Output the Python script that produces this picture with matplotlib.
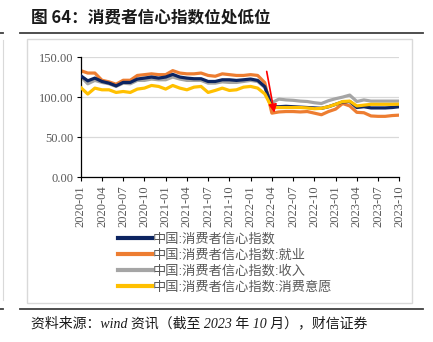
import matplotlib
matplotlib.use("Agg")
import matplotlib.pyplot as plt
from matplotlib.lines import Line2D
from matplotlib.patches import Rectangle

plt.rcParams['font.family'] = ['Liberation Sans', 'Noto Sans CJK SC', 'DejaVu Sans']

months = [f"{y}-{m:02d}" for y in (2020, 2021, 2022, 2023) for m in range(1, 13)][:46]
tick_labels = months[::3]

cci = [126.6, 120.3, 123.7, 119.5, 117.4, 114.0, 118.3, 118.3, 122.5, 123.7, 125.0, 123.7,
       125.0, 128.3, 125.0, 123.7, 122.9, 122.9, 119.5, 119.5, 121.6, 121.6, 120.8, 121.6,
       122.5, 120.8, 113.0, 88.0, 88.0, 88.5, 88.0, 87.5, 87.0, 86.5, 86.0, 88.0,
       91.0, 94.0, 94.5, 87.0, 88.0, 86.5, 86.5, 86.5, 87.0, 88.0]
employ = [133.0, 130.0, 130.0, 121.0, 119.0, 116.0, 121.0, 121.0, 127.0, 128.0, 129.0, 128.0,
          128.0, 133.0, 130.0, 129.0, 129.0, 130.0, 127.0, 126.0, 129.0, 128.0, 127.0, 127.0,
          128.0, 127.0, 118.0, 80.0, 81.5, 82.0, 82.0, 81.5, 82.0, 80.0, 78.0, 82.0,
          85.0, 92.0, 89.0, 81.0, 80.5, 76.5, 76.0, 76.0, 77.0, 77.5]
income = [125.8, 116.6, 120.8, 118.3, 116.6, 113.3, 117.4, 116.6, 120.8, 120.8, 122.5, 121.6,
          121.6, 125.0, 122.5, 120.8, 120.8, 120.8, 117.4, 117.4, 119.0, 118.3, 118.3, 119.5,
          120.8, 119.5, 112.0, 93.0, 97.5, 96.5, 96.0, 95.0, 94.5, 93.0, 92.0, 95.5,
          98.0, 100.0, 102.5, 94.5, 96.5, 95.0, 95.0, 95.0, 95.0, 95.0]
willing = [112.0, 103.8, 111.2, 109.1, 109.1, 105.8, 107.0, 105.8, 110.0, 111.2, 114.5, 113.3,
           110.0, 114.5, 111.2, 109.1, 112.4, 113.3, 105.8, 108.3, 111.2, 108.3, 109.1, 112.4,
           113.3, 111.2, 104.0, 87.0, 87.0, 87.0, 87.0, 87.0, 86.5, 85.5, 86.0, 88.0,
           91.0, 94.5, 95.0, 89.0, 90.0, 91.0, 91.0, 91.0, 91.0, 91.2]

names = ["中国:消费者信心指数", "中国:消费者信心指数:就业",
         "中国:消费者信心指数:收入", "中国:消费者信心指数:消费意愿"]
series = [cci, employ, income, willing]
colors = ["#0c2461", "#ed7d31", "#a5a5a5", "#ffc000"]
zorders = [3, 2, 1, 4]

fig = plt.figure(figsize=(4.33, 3.42), dpi=100)
W, H = 433, 342

def fx(px):
    return px / W

def fy(py):
    return 1 - py / H

# chart frame
fig.patches.append(Rectangle((fx(27), fy(303)), fx(412) - fx(27), fy(39) - fy(303),
                             transform=fig.transFigure, fill=False, edgecolor="#d9d9d9", lw=1.0))
# title rules
fig.lines.append(Line2D([fx(20), fx(423)], [fy(33.3), fy(33.3)], transform=fig.transFigure,
                        color="#404040", lw=1.3))
fig.lines.append(Line2D([fx(20), fx(423)], [fy(309.3), fy(309.3)], transform=fig.transFigure,
                        color="#404040", lw=1.3))
# neighbouring column traces
fig.lines.append(Line2D([fx(3), fx(3)], [fy(40), fy(300)], transform=fig.transFigure,
                        color="#d9d9d9", lw=0.8))
fig.lines.append(Line2D([0, fx(3)], [fy(33.3), fy(33.3)], transform=fig.transFigure,
                        color="#404040", lw=1.3))
fig.lines.append(Line2D([0, fx(3)], [fy(309.3), fy(309.3)], transform=fig.transFigure,
                        color="#404040", lw=1.3))

fig.text(fx(31), fy(17), "图 64：消费者信心指数位处低位", fontsize=12, fontweight="bold",
         family=["Noto Sans CJK SC"], va="center", ha="left", color="#1a1a1a")
fig.text(fx(31), fy(323), "资料来源：wind 资讯（截至 2023 年 10 月），财信证券", fontsize=10,
         style="italic", family=["Liberation Serif", "Noto Sans CJK SC"], va="center",
         ha="left", color="#1a1a1a")

ax = fig.add_axes([fx(80.7), fy(177.3), fx(399.3) - fx(80.7), fy(57) - fy(177.3)])
x = list(range(len(months)))
handles = {}
for i in range(4):
    h, = ax.plot(x, series[i], color=colors[i], lw=2.3, zorder=zorders[i],
                 solid_joinstyle="round", label=names[i])
    handles[i] = h

ax.set_xlim(0, len(months) - 1)
ax.set_ylim(0, 150)
ax.set_yticks([0, 50, 100, 150])
ax.set_yticklabels([f"{v:.2f}" for v in [0, 50, 100, 150]], family="Liberation Serif",
                   fontsize=9, color="#595959")
ax.set_xticks(x[::3])
ax.set_xticklabels(tick_labels, rotation=90, family="Liberation Serif", fontsize=9,
                   color="#595959")
ax.grid(axis="y", color="#d9d9d9", lw=0.9, zorder=0)
ax.set_axisbelow(True)
for s in ("top", "right"):
    ax.spines[s].set_visible(False)
ax.spines["left"].set_color("black")
ax.spines["bottom"].set_color("black")
ax.spines["left"].set_linewidth(0.9)
ax.spines["bottom"].set_linewidth(0.9)
ax.tick_params(axis="both", direction="out", length=3, width=0.8, color="black", pad=2)
ax.tick_params(axis="x", pad=3)

ax.annotate("", xy=(27.35, 80.5), xytext=(26.27, 132),
            arrowprops=dict(arrowstyle="-|>", color="#ff0000", lw=1.2,
                            mutation_scale=12, shrinkA=0, shrinkB=0), zorder=6)

leg = ax.legend([handles[i] for i in range(4)], names, loc="upper left",
                bbox_to_anchor=(fx(118), fy(233)), bbox_transform=fig.transFigure,
                frameon=False, fontsize=9.5, handlelength=2.6, handletextpad=0.05,
                labelspacing=0.28, borderpad=0, borderaxespad=0)
for t in leg.get_texts():
    t.set_color("#595959")
for lh in leg.get_lines():
    lh.set_linewidth(3)

fig.savefig("out.png", dpi=100)
